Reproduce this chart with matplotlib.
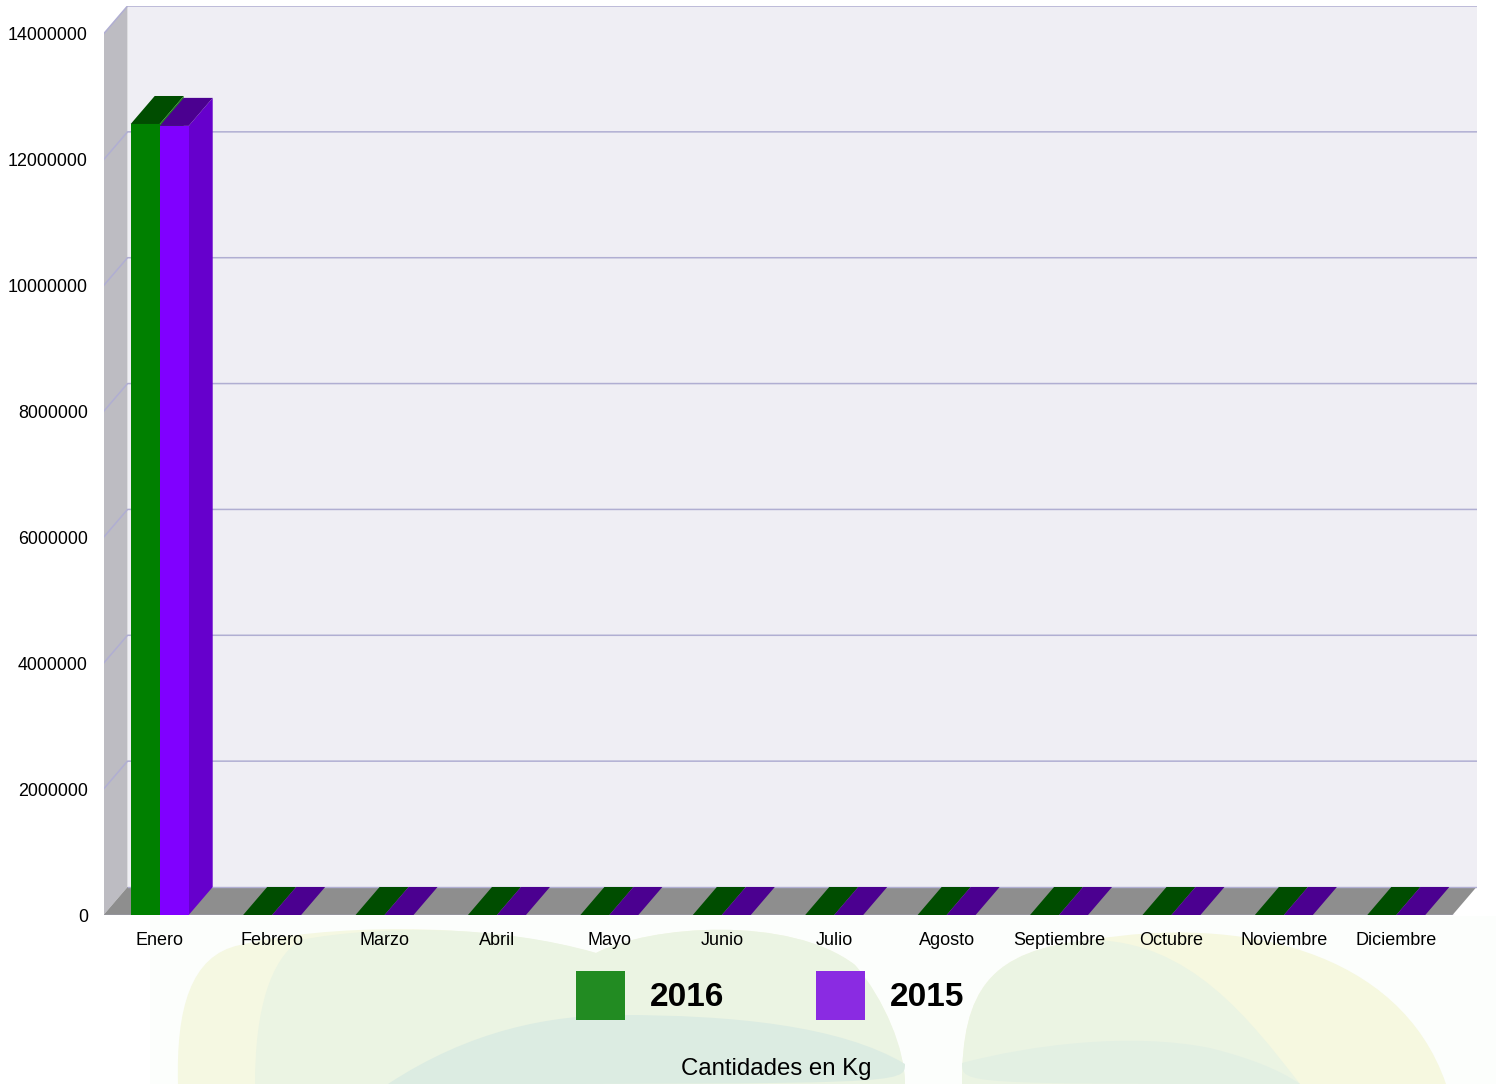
import numpy as np
import matplotlib
matplotlib.use("Agg")
import matplotlib.pyplot as plt
from matplotlib.patches import PathPatch, Rectangle
from matplotlib.path import Path

# data
months = ["Enero", "Febrero", "Marzo", "Abril", "Mayo", "Junio", "Julio",
          "Agosto", "Septiembre", "Octubre", "Noviembre", "Diciembre"]
values_2016 = [12570000, 0, 0, 0, 0, 0, 0, 0, 0, 0, 0, 0]
values_2015 = [12540000, 0, 0, 0, 0, 0, 0, 0, 0, 0, 0, 0]
series_names = ["2016", "2015"]
y_ticks = [0, 2000000, 4000000, 6000000, 8000000, 10000000, 12000000, 14000000]

plt.rcParams["font.family"] = ["Liberation Sans", "DejaVu Sans"]

W, H = 1496, 1084
fig = plt.figure(figsize=(W / 100, H / 100), dpi=100, facecolor="white")

# background axes in pixels, for the faded logo and the legend
bg = fig.add_axes([0, 0, 1, 1], zorder=0)
bg.set_xlim(0, W)
bg.set_ylim(H, 0)
bg.axis("off")


def blob(points, color):
    codes = [Path.MOVETO] + [Path.CURVE4] * (len(points) - 1)
    bg.add_patch(PathPatch(Path(points, codes), fc=color, ec="none"))


bg.add_patch(Rectangle((150, 916), W - 150, H - 916, fc="#fcfefc", ec="none"))
# left lobe
blob([(178, 1084), (176, 1010), (190, 955), (240, 945),
      (320, 925), (480, 920), (596, 953),
      (650, 925), (790, 915), (855, 965),
      (885, 1000), (905, 1050), (905, 1084),
      (178, 1084), (178, 1084), (178, 1084)], "#f5f8e2")
blob([(255, 1084), (255, 1010), (270, 960), (300, 940),
      (380, 925), (500, 925), (596, 953),
      (650, 925), (790, 915), (855, 965),
      (885, 1000), (905, 1050), (905, 1084),
      (255, 1084), (255, 1084), (255, 1084)], "#ebf4e3")
blob([(388, 1084), (470, 1030), (550, 1015), (620, 1015),
      (730, 1015), (840, 1025), (905, 1064),
      (905, 1084), (905, 1084), (388, 1084)], "#dcece2")
# right lobe
blob([(962, 1084), (962, 990), (990, 950), (1090, 940),
      (1240, 915), (1400, 950), (1446, 1084),
      (962, 1084), (962, 1084), (962, 1084)], "#f6f8e0")
blob([(962, 1084), (962, 990), (990, 950), (1090, 940),
      (1190, 940), (1250, 1020), (1300, 1084),
      (962, 1084), (962, 1084), (962, 1084)], "#ebf4e3")
blob([(962, 1063), (1030, 1045), (1130, 1032), (1210, 1048),
      (1250, 1058), (1280, 1070), (1300, 1084),
      (962, 1084), (962, 1084), (962, 1063)], "#e3f0e3")

# legend
bg.add_patch(Rectangle((576, 971), 49, 49, fc="#228B22", ec="none"))
bg.add_patch(Rectangle((816, 971), 49, 49, fc="#8A2BE2", ec="none"))
bg.text(650, 997, series_names[0], fontsize=24, fontweight="bold", va="center", ha="left")
bg.text(890, 997, series_names[1], fontsize=24, fontweight="bold", va="center", ha="left")
bg.text(776, 1069, "Cantidades en Kg", fontsize=17.3, va="center", ha="center")

# main axes: front plane runs from x=103.5 to 1452.5 and y=915 to 34
ax = fig.add_axes([103.5 / W, (H - 915) / H, (1476.5 - 103.5) / W, (915 - 6) / H], zorder=1)
ax.patch.set_alpha(0)
cat_w = (1452.5 - 103.5) / 12
y_px = 881 / 14000000
dx = 24 / cat_w
dy = 28 / y_px
bar_w = 29 / cat_w
x0, x1 = -0.5, 11.5
ax.set_xlim(x0, x1 + dx)
ax.set_ylim(0, 14000000 + dy)
for s in ax.spines.values():
    s.set_visible(False)

# walls and floor
top = 14000000
ax.fill([x0 + dx, x1 + dx, x1 + dx, x0 + dx], [dy, dy, top + dy, top + dy], fc="#efeef4", ec="none", zorder=1)
ax.fill([x0, x0 + dx, x0 + dx, x0], [0, dy, top + dy, top], fc="#bdbcc2", ec="none", zorder=1)
ax.fill([x0, x1, x1 + dx, x0 + dx], [0, 0, dy, dy], fc="#8e8e8e", ec="none", zorder=1)

# grid on back and left walls
for t in y_ticks[1:]:
    ax.plot([x0, x0 + dx, x1 + dx], [t, t + dy, t + dy], color="#b0aed2", lw=1.1, zorder=2)
ax.plot([x0 + dx, x1 + dx], [dy, dy], color="#b0aed2", lw=1, zorder=2)
ax.plot([x0, x1], [0, 0], color="#b0aed2", lw=1, zorder=2)

# 3d bars
x = np.arange(12)
series = [(values_2016, x - bar_w, "#008000", "#004d00", "#22861f"),
          (values_2015, x, "#8000ff", "#4b0090", "#6600cc")]
for vals, left, front, roof, side in series:
    for l, v in zip(left, vals):
        r = l + bar_w
        ax.fill([r, r + dx, r + dx, r], [0, dy, v + dy, v], fc=side, ec="none", zorder=3)
        ax.fill([l, r, r + dx, l + dx], [v, v, v + dy, v + dy], fc=roof, ec="none", zorder=3)
    ax.bar(left, vals, width=bar_w, align="edge", color=front, zorder=3)

ax.set_xticks(x)
ax.set_xticklabels(months, fontsize=13)
ax.set_yticks(y_ticks)
ax.set_yticklabels([str(t) for t in y_ticks], fontsize=12.9)
ax.tick_params(axis="both", length=0)
ax.tick_params(axis="x", pad=12)
ax.tick_params(axis="y", pad=11.3)

fig.savefig("out.png", dpi=100)
